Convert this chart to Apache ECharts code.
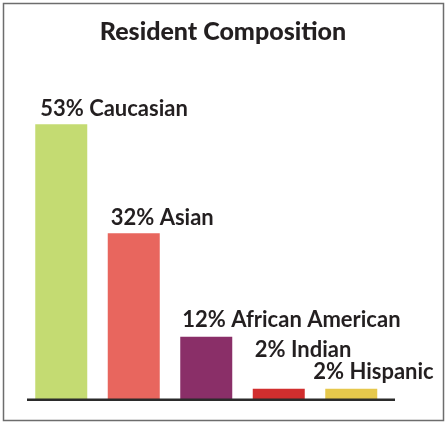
<!DOCTYPE html>
<html>
<head>
<meta charset="utf-8">
<script src="https://cdn.jsdelivr.net/npm/echarts@6/dist/echarts.min.js"></script>
<style>
html,body{margin:0;padding:0;background:#fff;}
#chart{width:446px;height:422px;}
</style>
</head>
<body>
<div id="chart"></div>
<script>
var titleText = 'Resident Composition';
var categories = ['Caucasian', 'Asian', 'African American', 'Indian', 'Hispanic'];
var values = [53, 32, 12, 2, 2];
var colors = ['#c4db72', '#e8665e', '#8a2f68', '#d12e2e', '#e6c84c'];

function buildOption() {
  // label nudges [dx, dy] relative to bar top-left
  var nudges = [[5, -4], [3, -4], [2, -6], [2, -28], [-12, -6]];
  var data = values.map(function (v, i) {
    return {
      value: v,
      itemStyle: { color: colors[i] },
      label: { position: [nudges[i][0], nudges[i][1]] }
    };
  });
  return {
    animation: false,
    title: {
      text: titleText,
      left: 'center',
      top: 14,
      textStyle: { fontFamily: 'Lato', fontWeight: 900, fontSize: 25, color: '#231f20' }
    },
    grid: { left: 25, right: 58.5, top: 88, bottom: 23 },
    xAxis: {
      type: 'category',
      data: categories,
      axisLine: { show: false },
      axisTick: { show: false },
      axisLabel: { show: false }
    },
    yAxis: {
      type: 'value',
      min: 0,
      max: 60,
      show: false,
      splitLine: { show: false }
    },
    series: [{
      type: 'bar',
      barWidth: 52,
      data: data,
      label: {
        show: true,
        align: 'left',
        verticalAlign: 'bottom',
        fontFamily: 'Lato',
        fontWeight: 'bold',
        fontSize: 22,
        color: '#231f20',
        formatter: function (p) { return p.value + '% ' + p.name; }
      }
    }],
    graphic: [
      {
        type: 'rect',
        shape: { x: 3.5, y: 3.5, width: 440, height: 417 },
        style: { fill: 'none', stroke: '#6d6d6d', lineWidth: 1.5 },
        z: 100
      },
      {
        type: 'line',
        shape: { x1: 27, y1: 399.7, x2: 395, y2: 399.7 },
        style: { stroke: '#2b2b2b', lineWidth: 2.5 },
        z: 100
      }
    ]
  };
}

var chart = echarts.init(document.getElementById('chart'), null, { renderer: 'canvas' });
chart.setOption(buildOption());
</script>
</body>
</html>
